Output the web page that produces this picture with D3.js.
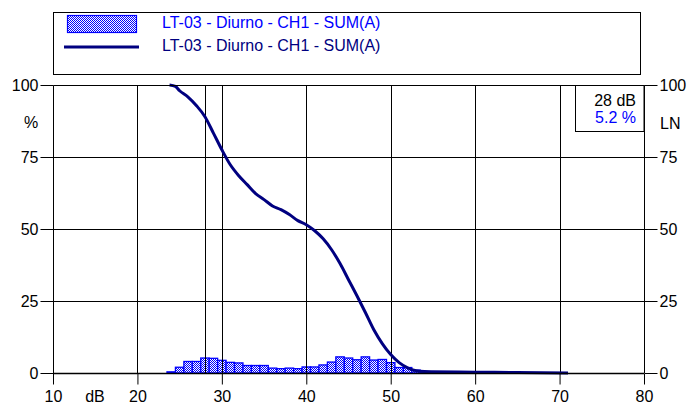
<!DOCTYPE html>
<html>
<head>
<meta charset="utf-8">
<script src="https://cdn.jsdelivr.net/npm/d3@7"></script>
<style>
  body { margin: 0; background: #fff; }
  text { font-family: "Liberation Sans", Arial, sans-serif; }
</style>
</head>
<body>
<svg id="chart" width="699" height="407"></svg>
<script>
  'use strict';

  // histogram: percent of time per 1 dB class
  var binDb = [24, 25, 26, 27, 28, 29, 30, 31, 32, 33, 34, 35, 36, 37, 38, 39, 40,
    41, 42, 43, 44, 45, 46, 47, 48, 49, 50, 51, 52, 53, 54, 55, 56, 57, 58, 59, 60];
  var binPct = [0.4, 2.0, 4.0, 4.0, 5.2, 5.1, 4.4, 3.7, 3.5, 2.6, 2.6, 2.6, 1.7, 1.5, 1.7, 1.5, 2.1,
    2.1, 2.8, 3.8, 5.6, 5.2, 4.6, 5.6, 4.5, 4.7, 3.6, 1.9, 1.9, 1.0, 0.4, 0.3, 0.2, 0.2, 0.2, 0.1, 0.1];

  // cumulative curve (LN)
  var curveDb = [23.8, 24.5, 25, 26, 27, 28, 29, 30, 31, 32, 33, 34, 35, 36, 37, 38, 39, 40,
    41, 42, 43, 44, 45, 46, 47, 48, 49, 50, 51, 52, 53, 54, 60, 65, 71];
  var curvePct = [100, 99.5, 98, 95.8, 92.8, 89, 83.3, 77.5, 72.3, 68.5, 65.4, 62.3, 60.2, 58, 56.7, 55, 52.9, 51.5,
    49.4, 46.6, 42.8, 38, 32.4, 26.8, 21, 15, 10.2, 6.4, 3.6, 1.8, 0.8, 0.5, 0.3, 0.15, 0];

  var xTicks = [10, 20, 30, 40, 50, 60, 70, 80];
  var yTicks = [0, 25, 50, 75, 100];
  var seriesName = 'LT-03 - Diurno - CH1 - SUM(A)';
  var markerDb = 28;
  var markerPct = '5.2 %';

  var FS = 16;
  var svg = d3.select('#chart');
  var x = d3.scaleLinear().domain([10, 80]).range([53, 644]);
  var y = d3.scaleLinear().domain([0, 100]).range([373, 85]);

  var $defs = svg.append('defs');
  var $pat = $defs.append('pattern')
    .attr('id', 'chk')
    .attr('width', 2)
    .attr('height', 2)
    .attr('patternUnits', 'userSpaceOnUse');
  $pat.append('rect').attr('width', 2).attr('height', 2).attr('fill', '#fff');
  $pat.append('rect').attr('width', 1).attr('height', 1).attr('fill', '#0000ff');
  $pat.append('rect').attr('x', 1).attr('y', 1).attr('width', 1).attr('height', 1).attr('fill', '#0000ff');

  // legend
  var $leg = svg.append('g');
  $leg.append('rect')
    .attr('x', 53.5).attr('y', 12.5).attr('width', 587).attr('height', 62)
    .attr('fill', 'none').attr('stroke', '#000');
  $leg.append('rect')
    .attr('x', 67.5).attr('y', 15.5).attr('width', 69).attr('height', 17)
    .attr('fill', 'url(#chk)').attr('stroke', '#0000ff').attr('stroke-width', 1.2);
  $leg.append('line')
    .attr('x1', 64).attr('x2', 139).attr('y1', 47).attr('y2', 47)
    .attr('stroke', '#000080').attr('stroke-width', 3);
  $leg.append('text').attr('x', 162).attr('y', 28)
    .attr('font-size', FS).attr('fill', '#0000ff').text(seriesName);
  $leg.append('text').attr('x', 162).attr('y', 51)
    .attr('font-size', FS).attr('fill', '#000080').text(seriesName);

  // histogram bars
  svg.append('g')
    .selectAll('rect')
    .data(binDb)
    .enter()
    .append('rect')
    .attr('x', function(d) { return x(d - 0.5); })
    .attr('width', function(d) { return x(d + 0.5) - x(d - 0.5); })
    .attr('y', function(d, i) { return y(binPct[i]); })
    .attr('height', function(d, i) { return y(0) - y(binPct[i]); })
    .attr('fill', 'url(#chk)')
    .attr('stroke', '#0000ff')
    .attr('stroke-width', 1.3);

  // grid
  var $grid = svg.append('g').attr('stroke', '#000').attr('stroke-width', 1);
  $grid.selectAll('line.vg')
    .data(xTicks.slice(1, -1))
    .enter()
    .append('line')
    .attr('class', 'vg')
    .attr('x1', function(d) { return Math.round(x(d)) + 0.5; })
    .attr('x2', function(d) { return Math.round(x(d)) + 0.5; })
    .attr('y1', y(100)).attr('y2', y(0));
  $grid.selectAll('line.hg')
    .data([25, 50, 75])
    .enter()
    .append('line')
    .attr('class', 'hg')
    .attr('x1', x(10)).attr('x2', x(80))
    .attr('y1', function(d) { return Math.round(y(d)) + 0.5; })
    .attr('y2', function(d) { return Math.round(y(d)) + 0.5; });
  $grid.append('line')
    .attr('x1', Math.round(x(markerDb)) + 0.5).attr('x2', Math.round(x(markerDb)) + 0.5)
    .attr('y1', y(100)).attr('y2', y(0));

  // curve
  var line = d3.line()
    .x(function(d, i) { return x(d); })
    .y(function(d, i) { return y(curvePct[i]); })
    .curve(d3.curveMonotoneX);
  svg.append('path')
    .attr('d', line(curveDb))
    .attr('fill', 'none')
    .attr('stroke', '#000080')
    .attr('stroke-width', 3)
    .attr('stroke-linejoin', 'round');

  // frame (left, top, right, bottom)
  var $frame = svg.append('g').attr('stroke', '#000').attr('fill', 'none');
  $frame.append('path')
    .attr('d', 'M' + (x(10) + 0.5) + ',' + y(0) + 'V' + (y(100) + 0.5) + 'H' + (x(80) + 0.5) + 'V' + y(0));
  $frame.append('line')
    .attr('x1', x(10)).attr('x2', x(80))
    .attr('y1', y(0) + 0.5).attr('y2', y(0) + 0.5)
    .attr('stroke-width', 1.5);

  // axes
  var $yl = svg.append('g')
    .attr('transform', 'translate(' + (x(10) + 0.5) + ',0)')
    .call(d3.axisLeft(y).tickValues(yTicks).tickSize(13).tickPadding(2));
  var $yr = svg.append('g')
    .attr('transform', 'translate(' + (x(80) + 0.5) + ',0)')
    .call(d3.axisRight(y).tickValues(yTicks).tickSize(13).tickPadding(2));
  var $xb = svg.append('g')
    .attr('transform', 'translate(0,' + (y(0) + 0.5) + ')')
    .call(d3.axisBottom(x).tickValues(xTicks).tickSize(11).tickPadding(6));
  [$yl, $yr, $xb].forEach(function($a) {
    $a.select('.domain').remove();
    $a.selectAll('text')
      .attr('font-size', FS)
      .attr('fill', '#000')
      .style('font-family', '"Liberation Sans", Arial, sans-serif');
    $a.selectAll('line').attr('stroke', '#000');
  });

  svg.append('text').attr('x', 31).attr('y', 128).attr('text-anchor', 'middle')
    .attr('font-size', FS).text('%');
  svg.append('text').attr('x', 95).attr('y', 402).attr('text-anchor', 'middle')
    .attr('font-size', FS).text('dB');
  svg.append('text').attr('x', 660).attr('y', 129)
    .attr('font-size', FS).text('LN');

  // marker box
  svg.append('rect')
    .attr('x', 575.5).attr('y', y(100) + 0.5).attr('width', x(80) - 575.5).attr('height', 46)
    .attr('fill', '#fff').attr('stroke', '#000');
  svg.append('text').attr('x', 636).attr('y', 106).attr('text-anchor', 'end')
    .attr('font-size', FS).text(markerDb + ' dB');
  svg.append('text').attr('x', 636).attr('y', 123).attr('text-anchor', 'end')
    .attr('font-size', FS).attr('fill', '#0000ff').text(markerPct);
</script>
</body>
</html>
